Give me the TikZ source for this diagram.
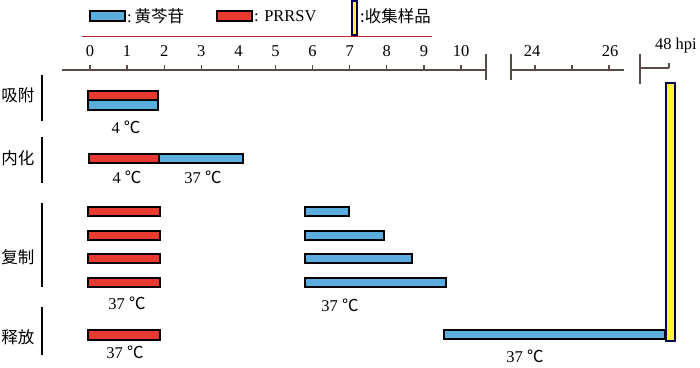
\documentclass[tikz,border=0pt]{standalone}
\usepackage{fontspec}
\setmainfont{Liberation Serif}
\newfontfamily\cjk{Noto Sans CJK SC}
\definecolor{barblue}{HTML}{5AAEDF}
\definecolor{barred}{HTML}{E93A31}
\definecolor{baryellow}{HTML}{FFF53A}
\definecolor{axisgray}{HTML}{5B4B48}
\definecolor{linered}{HTML}{C3272A}
\newcommand{\degc}{{\cjk ℃}}

\begin{document}
\begin{tikzpicture}[x=1pt,y=-1pt,
      every node/.style={font=\fontsize{16.5}{18}\selectfont,inner sep=1pt},
      axis/.style={draw=axisgray,line width=1.3pt},
      bracket/.style={draw=black,line width=1.5pt},
      redbar/.style={draw=black,line width=1.2pt,fill=barred},
      bluebar/.style={draw=black,line width=1.2pt,fill=barblue},
      samplebar/.style={draw=black!70!blue,line width=1.2pt,fill=baryellow}]
    \useasboundingbox (0,0) rectangle (700,367);
    \draw[bluebar] (90,11) rectangle (125,21);
    \node[anchor=west] (legblue) at (126,16) {:\,{\cjk 黄芩苷}};
    \draw[redbar] (217,11) rectangle (252,21);
    \node[anchor=west] (legred) at (253,16) {: PRRSV};
    \draw[samplebar] (352,1) rectangle (357,35);
    \node[anchor=west] (legsample) at (359,16) {\cjk :收集样品};
    \draw[linered,line width=1pt] (82,36) -- (432,36);
    \draw[axis] (62,70) -- (486,70);
    \draw[axis] (486,54) -- (486,80);
    \foreach \t in {0,...,10}{
      \draw[axis] (90+37.1*\t,70) -- (90+37.1*\t,65);
      \node (tick\t) at (90+37.1*\t,51) {\t};
    }
    \draw[axis] (511,54) -- (511,80);
    \draw[axis] (511,70) -- (624,70);
    \foreach \x in {535,572,609}
      \draw[axis] (\x,70) -- (\x,65);
    \node (tick24) at (532,51) {24};
    \node (tick26) at (610,51) {26};
    \draw[axis] (640,54) -- (640,84);
    \draw[axis] (640,68) -- (669,68);
    \draw[axis] (669,68) -- (669,63);
    \node[anchor=east] (tick48) at (698,46) {48 hpi};
    \node (adsorb) at (18,95) {\cjk 吸附};
    \draw[bracket] (42,75) -- (42,121);
    \draw[redbar] (88,91) rectangle (158,100);
    \draw[bluebar] (88,100) rectangle (158,110);
    \node (tempA) at (126,127) {4 \degc};
    \node (intern) at (18,158) {\cjk 内化};
    \draw[bracket] (42,137) -- (42,183);
    \draw[redbar] (89,154) rectangle (159,163);
    \draw[bluebar] (159,154) rectangle (243,163);
    \node (tempB) at (127,177) {4 \degc};
    \node (tempC) at (203,177) {37 \degc};
    \node (replic) at (18,257) {\cjk 复制};
    \draw[bracket] (42,203) -- (42,287);
    \foreach \y/\e in {207/349,231/384,254/412,278/446}{
      \draw[redbar] (88,\y) rectangle (160,\y+9);
      \draw[bluebar] (305,\y) rectangle (\e,\y+9);
    }
    \node (tempD) at (127,303) {37 \degc};
    \node (tempE) at (340,305) {37 \degc};
    \node (release) at (18,337) {\cjk 释放};
    \draw[bracket] (42,307) -- (42,355);
    \draw[redbar] (88,330) rectangle (160,340);
    \draw[bluebar] (444,330) rectangle (665,339);
    \node (tempF) at (125,352) {37 \degc};
    \node (tempG) at (525,356) {37 \degc};
    \draw[samplebar] (666,83) rectangle (675,341);
  \end{tikzpicture}
\end{document}
